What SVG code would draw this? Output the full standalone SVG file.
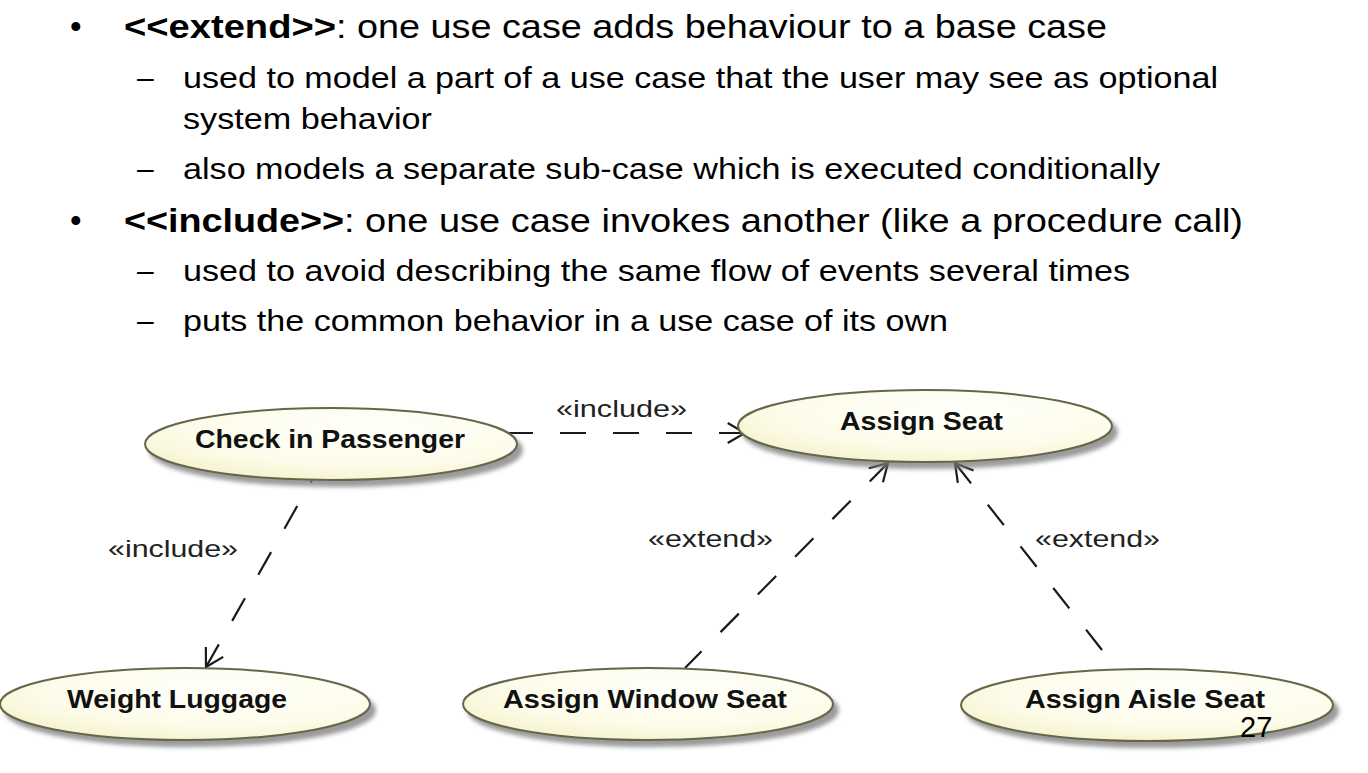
<svg xmlns="http://www.w3.org/2000/svg" width="1368" height="773" viewBox="0 0 1368 773">
<style>
.t1{font-family:"Liberation Sans",Arial,sans-serif;font-size:33px;fill:#000}
.t2{font-family:"Liberation Sans",Arial,sans-serif;font-size:30px;fill:#000}
.b{font-weight:bold}
.uc{fill:url(#ucg);stroke:#66664a;stroke-width:2;filter:url(#sh)}
.nl{font-family:"Liberation Sans",Arial,sans-serif;font-size:26px;font-weight:bold;fill:#111}
.cl{font-family:"Liberation Sans",Arial,sans-serif;font-size:24px;fill:#222}
.cn{fill:none;stroke:#1a1a1a;stroke-width:2.2;stroke-dasharray:26 27}
</style>
<defs>
<radialGradient id="ucg" cx="0.6" cy="0.3" r="0.8">
<stop offset="0" stop-color="#fffffb"/>
<stop offset="0.6" stop-color="#fdfcea"/>
<stop offset="1" stop-color="#f4f0c8"/>
</radialGradient>
<filter id="sh" x="-10%" y="-30%" width="125%" height="170%">
<feDropShadow dx="5" dy="6" stdDeviation="2.2" flood-color="#7a7a7a" flood-opacity="0.75"/>
</filter>
<marker id="ah" viewBox="-20 -12 22 24" markerWidth="22" markerHeight="24" refX="0" refY="0" orient="auto-start-reverse" markerUnits="userSpaceOnUse">
<path d="M-17.3 -10 L0 0 L-17.3 10" fill="none" stroke="#1a1a1a" stroke-width="2.2"/>
</marker>
</defs>
<rect width="1368" height="773" fill="#fff"/>

<g id="bullets">
<text class="t1" x="70" y="38">•</text>
<text class="t1 b" x="124" y="38" textLength="212" lengthAdjust="spacingAndGlyphs">&lt;&lt;extend&gt;&gt;</text>
<text class="t1" x="336" y="38" textLength="771" lengthAdjust="spacingAndGlyphs">: one use case adds behaviour to a base case</text>
<text class="t2" x="137" y="88">–</text>
<text class="t2" x="183" y="88" textLength="1035" lengthAdjust="spacingAndGlyphs">used to model a part of a use case that the user may see as optional</text>
<text class="t2" x="183" y="129" textLength="249" lengthAdjust="spacingAndGlyphs">system behavior</text>
<text class="t2" x="137" y="179">–</text>
<text class="t2" x="183" y="179" textLength="977" lengthAdjust="spacingAndGlyphs">also models a separate sub-case which is executed conditionally</text>
<text class="t1" x="70" y="232">•</text>
<text class="t1 b" x="124" y="232" textLength="220" lengthAdjust="spacingAndGlyphs">&lt;&lt;include&gt;&gt;</text>
<text class="t1" x="344" y="232" textLength="899" lengthAdjust="spacingAndGlyphs">: one use case invokes another (like a procedure call)</text>
<text class="t2" x="137" y="281">–</text>
<text class="t2" x="183" y="281" textLength="947" lengthAdjust="spacingAndGlyphs">used to avoid describing the same flow of events several times</text>
<text class="t2" x="137" y="331">–</text>
<text class="t2" x="183" y="331" textLength="765" lengthAdjust="spacingAndGlyphs">puts the common behavior in a use case of its own</text>
</g>

<g id="connectors">
<path class="cn" d="M745 433 L505 433" marker-start="url(#ah)"/>
<path class="cn" d="M206 667 L312 480" marker-start="url(#ah)"/>
<path class="cn" d="M888 463 L685 668" marker-start="url(#ah)"/>
<path class="cn" d="M955 463 L1102 650" marker-start="url(#ah)"/>
<text class="cl" x="556" y="417" textLength="131" lengthAdjust="spacingAndGlyphs">«include»</text>
<text class="cl" x="108" y="557" textLength="130" lengthAdjust="spacingAndGlyphs">«include»</text>
<text class="cl" x="648" y="547" textLength="125" lengthAdjust="spacingAndGlyphs">«extend»</text>
<text class="cl" x="1035" y="547" textLength="125" lengthAdjust="spacingAndGlyphs">«extend»</text>
</g>

<g id="check-in-passenger">
<ellipse class="uc" cx="331" cy="444" rx="186" ry="36"/>
<text class="nl" x="195" y="448" textLength="270" lengthAdjust="spacingAndGlyphs">Check in Passenger</text>
</g>
<g id="assign-seat">
<ellipse class="uc" cx="925" cy="426" rx="187" ry="36"/>
<text class="nl" x="840" y="430" textLength="163" lengthAdjust="spacingAndGlyphs">Assign Seat</text>
</g>
<g id="weight-luggage">
<ellipse class="uc" cx="185" cy="704" rx="185" ry="36"/>
<text class="nl" x="67" y="708" textLength="220" lengthAdjust="spacingAndGlyphs">Weight Luggage</text>
</g>
<g id="assign-window-seat">
<ellipse class="uc" cx="648" cy="704" rx="185" ry="36"/>
<text class="nl" x="503" y="708" textLength="284" lengthAdjust="spacingAndGlyphs">Assign Window Seat</text>
</g>
<g id="assign-aisle-seat">
<ellipse class="uc" cx="1147" cy="705" rx="186" ry="36"/>
<text class="nl" x="1025" y="708" textLength="240" lengthAdjust="spacingAndGlyphs">Assign Aisle Seat</text>
</g>

<text id="page-number" x="1240" y="737" font-family="Liberation Sans, Arial, sans-serif" font-size="29" fill="#000">27</text>
</svg>
